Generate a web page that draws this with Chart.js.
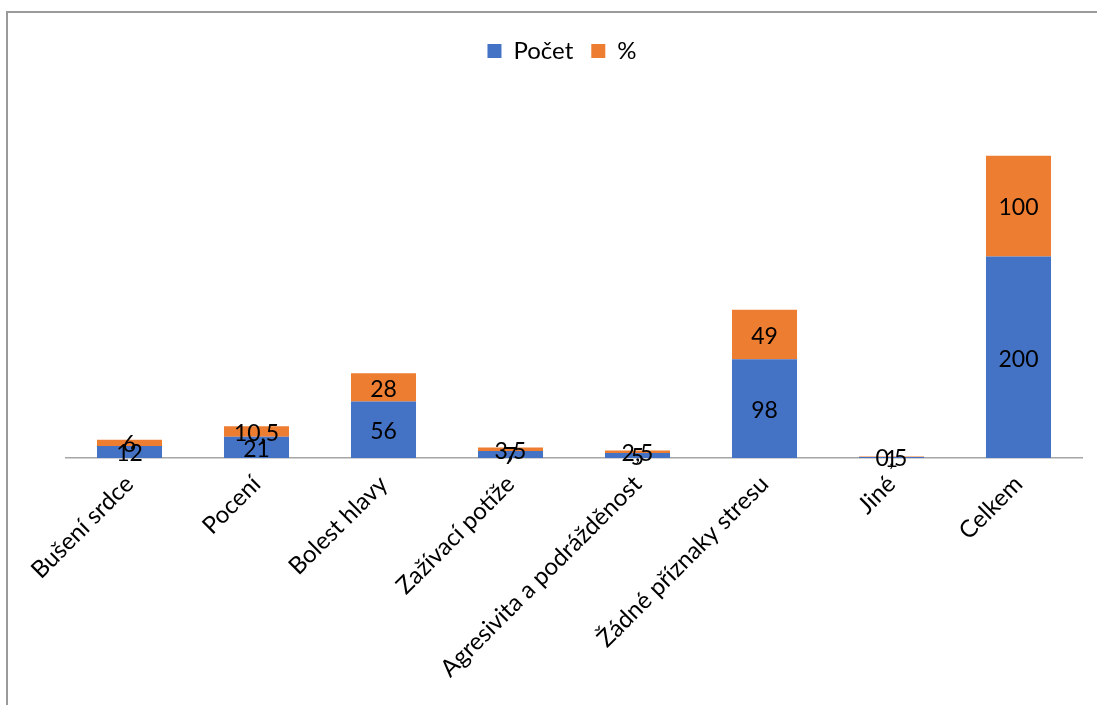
<!DOCTYPE html>
<html lang="cs">
<head>
<meta charset="utf-8">
<title>Příznaky stresu</title>
<script src="https://cdn.jsdelivr.net/npm/chart.js@4.4.1/dist/chart.umd.min.js"></script>
<style>
  html, body { margin: 0; padding: 0; background: #fff; }
  #wrap { width: 1097px; height: 705px; position: relative; }
</style>
</head>
<body>
<div id="wrap"><canvas id="c" width="1097" height="705"></canvas></div>
<script>
const categories = [
  'Bušení srdce', 'Pocení', 'Bolest hlavy', 'Zažívací potíže',
  'Agresivita a podrážděnost', 'Žádné příznaky stresu', 'Jiné', 'Celkem'
];
const pocet = [12, 21, 56, 7, 5, 98, 1, 200];
const procenta = [6, 10.5, 28, 3.5, 2.5, 49, 0.5, 100];

const FONT = 'Lato, "Open Sans", "Liberation Sans", sans-serif';

// Value labels centred in every bar segment (Czech decimal comma)
const valueLabels = {
  id: 'valueLabels',
  afterDatasetsDraw(chart) {
    const ctx = chart.ctx;
    ctx.save();
    ctx.font = '23px ' + FONT;
    ctx.fillStyle = '#000';
    ctx.textAlign = 'center';
    ctx.textBaseline = 'middle';
    chart.data.datasets.forEach((ds, i) => {
      const meta = chart.getDatasetMeta(i);
      meta.data.forEach((bar, j) => {
        const p = bar.getCenterPoint();
        ctx.fillText(String(ds.data[j]).replace('.', ','), p.x, p.y + 2);
      });
    });
    ctx.restore();
  }
};

// Thin frame around the drawing area
const frame = {
  id: 'frame',
  beforeDraw(chart) {
    const ctx = chart.ctx;
    ctx.save();
    ctx.strokeStyle = '#9a9a9a';
    ctx.lineWidth = 2;
    ctx.strokeRect(7, 12, 1200, 800);
    ctx.restore();
  }
};

new Chart(document.getElementById('c'), {
  type: 'bar',
  data: {
    labels: categories,
    datasets: [
      { label: 'Počet', data: pocet, backgroundColor: '#4472C4' },
      { label: '%', data: procenta, backgroundColor: '#ED7D31' }
    ]
  },
  plugins: [frame, valueLabels],
  options: {
    responsive: false,
    animation: false,
    layout: { padding: { top: 21, left: 42, right: 15, bottom: 0 } },
    datasets: { bar: { categoryPercentage: 1, barPercentage: 0.512 } },
    plugins: {
      legend: {
        position: 'top',
        labels: {
          font: { family: FONT, size: 24 },
          color: '#000',
          boxWidth: 14,
          boxHeight: 14,
          padding: 18
        }
      },
      tooltip: { enabled: false }
    },
    scales: {
      x: {
        stacked: true,
        grid: { display: false, drawTicks: false },
        border: { display: true, color: '#a6a6a6', width: 1.5 },
        ticks: {
          autoSkip: false,
          maxRotation: 45,
          minRotation: 45,
          padding: 12,
          color: '#000',
          font: { family: FONT, size: 24 }
        },
        afterFit(scale) { scale.height = 247; }
      },
      y: {
        stacked: true,
        display: true,
        min: 0,
        max: 382,
        grid: { display: false, drawTicks: false },
        border: { display: false },
        ticks: { display: false },
        afterFit(scale) { scale.width = 24; }
      }
    }
  }
});
</script>
</body>
</html>
